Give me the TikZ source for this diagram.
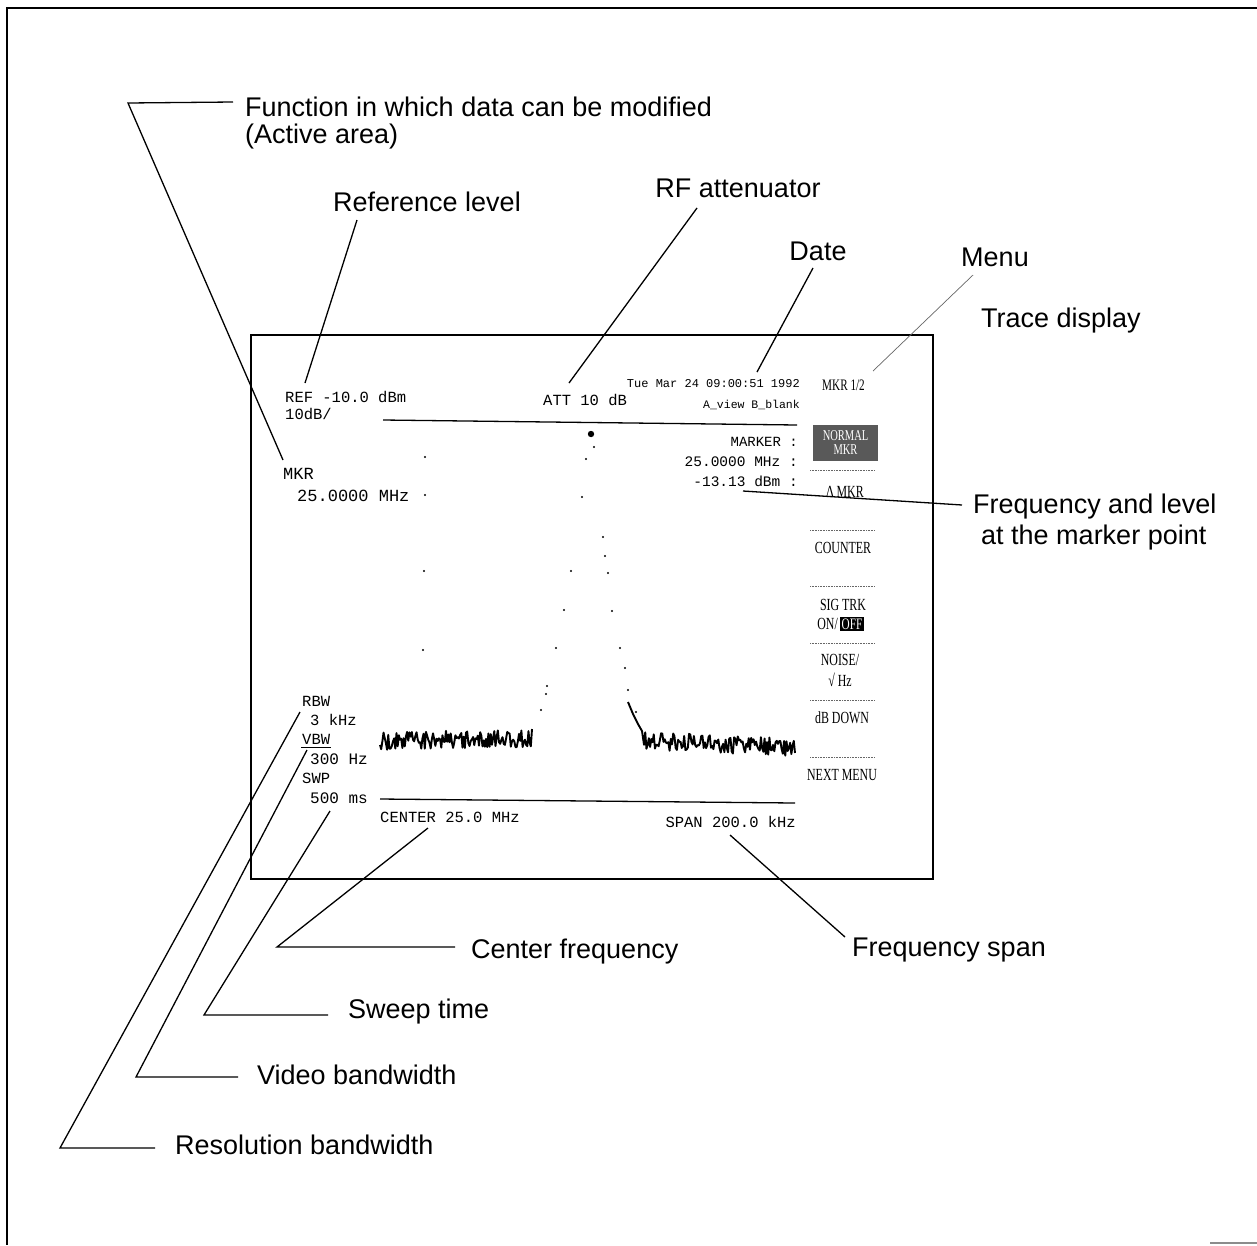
\documentclass[tikz,border=0pt]{standalone}
\usepackage{fontspec}
\setmainfont{Liberation Sans}
\newfontfamily\scrfont{Liberation Mono}
\newfontfamily\menufont[FakeStretch=0.7]{Liberation Serif}
\begin{document}
\begin{tikzpicture}[x=1pt,y=-1pt,
  lbl/.style={font=\fontsize{27}{31}\selectfont, inner sep=0pt},
  scr/.style={font=\scrfont\fontsize{#1}{#1}\selectfont, inner sep=0pt},
  mnu/.style={font=\menufont\fontsize{#1}{#1}\selectfont, inner sep=0pt},
  leader/.style={line width=1.3pt, black},
  thinleader/.style={line width=0.7pt, black!60},
  frame/.style={line width=2pt, black},
  sep/.style={densely dotted, line width=0.6pt, black!60},
  trace/.style={line width=1.9pt, black, line join=round},
  dotp/.style={fill=black}
]
\useasboundingbox (0,0) rectangle (1257,1245);
% outer frame
\draw[frame] (1257,8) -- (7,8) -- (7,1245);
\draw[line width=1.5pt, black!45] (1210,1243) -- (1257,1243);

% screen
\draw[frame] (251,335) rectangle (933,879);

% ---- screen texts ----
\node[scr=15.5, anchor=west] (ref) at (285,397) {REF -10.0 dBm};
\node[scr=15.5, anchor=west] (div) at (285,414) {10dB/};
\node[scr=15.5, anchor=west] (att) at (543,400) {ATT 10 dB};
\node[scr=12, anchor=east] (date) at (800,384) {Tue Mar 24 09:00:51 1992};
\node[scr=11.5, anchor=east] (view) at (800,405) {A\_view B\_blank};
\node[mnu=16, anchor=west] (mkr12) at (822,385) {MKR 1/2};
\node[scr=17, anchor=west] (mkr) at (283,474) {MKR};
\node[scr=17, anchor=west] (mkrf) at (297,496) {25.0000 MHz};
\node[scr=14, anchor=east] (mk1) at (798,442) {MARKER :};
\node[scr=14.5, anchor=east] (mk2) at (798,462) {25.0000 MHz :};
\node[scr=14.5, anchor=east] (mk3) at (798,481) {-13.13 dBm :};

\node[scr=15.5, anchor=west] (rbw) at (302,701) {RBW};
\node[scr=15.5, anchor=west] (rbwv) at (310,720) {3 kHz};
\node[scr=15.5, anchor=west] (vbw) at (302,739) {VBW};
\draw[line width=1pt] (301,747) -- (331,747);
\node[scr=16, anchor=west] (vbwv) at (310,759) {300 Hz};
\node[scr=15.5, anchor=west] (swp) at (302,778) {SWP};
\node[scr=16, anchor=west] (swpv) at (310,798) {500 ms};
\node[scr=15.5, anchor=west] (cen) at (380,817) {CENTER 25.0 MHz};
\node[scr=15.5, anchor=east] (span) at (796,822) {SPAN 200.0 kHz};

% graticule top/bottom lines
\draw[line width=1.3pt] (383,420) -- (797,425);
\draw[line width=1.3pt] (380,799) -- (795,803);

% ---- menu ----
\node[fill=black!65, minimum width=65pt, minimum height=36pt, inner sep=0pt,
      text=white, font=\menufont\fontsize{15}{15}\selectfont, align=center] (norm) at (845.5,443) {NORMAL\\[-1pt]MKR};
\draw[sep] (810,470) -- (875,470);
\node[mnu=17] (dmkr) at (845,492) {∆ MKR};
\draw[sep] (810,530) -- (875,530);
\node[mnu=17] (cnt) at (843,548) {COUNTER};
\draw[sep] (810,586) -- (875,586);
\node[mnu=17] (sig) at (843,605) {SIG TRK};
\node[mnu=17, anchor=east] (on) at (838,624) {ON/};
\node[fill=black, text=white, mnu=16, inner sep=1.5pt] (off) at (852,624) {OFF};
\draw[sep] (810,643) -- (875,643);
\node[mnu=17] (noi) at (840,660) {NOISE/};
\node[mnu=17] (hz) at (840,680) {√ Hz};
\draw[sep] (810,700) -- (875,700);
\node[mnu=17] (dbd) at (842,718) {dB DOWN};
\draw[sep] (810,757) -- (875,757);
\node[mnu=17] (nxt) at (842,775) {NEXT MENU};

% ---- trace ----
\pgfmathsetseed{12}
\draw[trace] plot[domain=380:532, samples=130, variable=\t] (\t,{741-3*(\t-380)/150+9*rand});
\draw[trace] (628,702) -- (633,714) -- (638,724) -- (642,731) --
  plot[domain=644:795, samples=125, variable=\t] (\t,{741+6*(\t-644)/150+9*rand});
\fill (591,434) circle (3.2);
\foreach \p in {(594,447),(586,459),(582,497),(603,537),(605,556),(571,571),(608,573),
  (564,610),(612,611),(556,648),(620,648),(625,668),(628,690),(547,686),(546,694),
  (541,710),(636,712),(425,457),(425,495),(424,571),(423,650)}
  \fill \p circle (1.1);

% ---- labels ----
\node[lbl, anchor=west] (func) at (245,107) {Function in which data can be modified};
\node[lbl, anchor=west] (act) at (245,137) {(Active area)};
\node[lbl] (reflbl) at (427,202) {Reference level};
\node[lbl] (rflbl) at (738,188) {RF attenuator};
\node[lbl] (datelbl) at (818,251) {Date};
\node[lbl] (menulbl) at (995,257) {Menu};
\node[lbl, anchor=west] (trlbl) at (981,321) {Trace display};
\node[lbl, anchor=west] (fl1) at (973,507) {Frequency and level};
\node[lbl, anchor=west] (fl2) at (981,538) {at the marker point};
\node[lbl, anchor=west] (cflbl) at (471,952) {Center frequency};
\node[lbl, anchor=west] (fslbl) at (852,950) {Frequency span};
\node[lbl, anchor=west] (swlbl) at (348,1012) {Sweep time};
\node[lbl, anchor=west] (vblbl) at (257,1075) {Video bandwidth};
\node[lbl, anchor=west] (rblbl) at (175,1145) {Resolution bandwidth};

% ---- leader coordinates ----
\coordinate (f1) at (233,102); \coordinate (f0) at (128,103); \coordinate (f2) at (283,460);
\coordinate (r1) at (357,220); \coordinate (r2) at (305,383);
\coordinate (a1) at (697,208); \coordinate (a2) at (569,383);
\coordinate (d1) at (813,268); \coordinate (d2) at (757,372);
\coordinate (m1) at (973,275); \coordinate (m2) at (873,371);
\coordinate (k1) at (743,491); \coordinate (k2) at (962,505);
\coordinate (c1) at (455,947); \coordinate (c0) at (277,947); \coordinate (c2) at (428,828);
\coordinate (s1) at (730,835); \coordinate (s2) at (845,937);
\coordinate (w1) at (328,1015); \coordinate (w0) at (204,1015); \coordinate (w2) at (330,811);
\coordinate (v1) at (238,1077); \coordinate (v0) at (136,1077); \coordinate (v2) at (307,750);
\coordinate (b1) at (155,1148); \coordinate (b0) at (60,1148); \coordinate (b2) at (300,712);

\draw[leader] (f1) -- (f0) -- (f2);
\draw[leader] (r1) -- (r2);
\draw[leader] (a1) -- (a2);
\draw[leader] (d1) -- (d2);
\draw[thinleader] (m1) -- (m2);
\draw[leader] (k1) -- (k2);
\draw[leader] (c1) -- (c0) -- (c2);
\draw[leader] (s1) -- (s2);
\draw[leader] (w1) -- (w0) -- (w2);
\draw[leader] (v1) -- (v0) -- (v2);
\draw[leader] (b1) -- (b0) -- (b2);
\end{tikzpicture}
\end{document}
